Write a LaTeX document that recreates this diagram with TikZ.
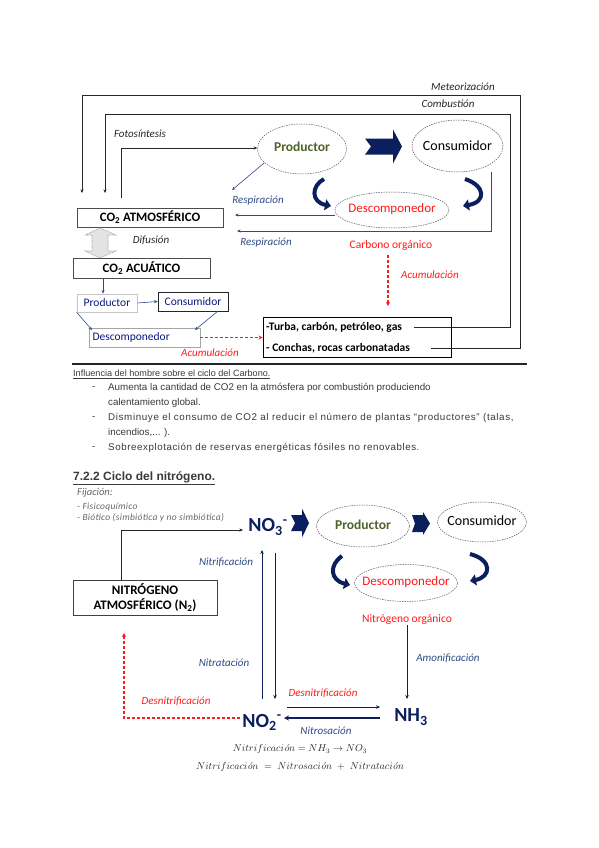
\documentclass[tikz,border=0pt]{standalone}
\usepackage{fontspec}
\setmainfont{Carlito}
\newfontfamily\arialf{Liberation Sans}
\newfontfamily\lmrf{Latin Modern Roman}
\newcommand\oacc{\mbox{\lmrf\itshape ó}}
\usetikzlibrary{shapes.geometric,arrows.meta}
\definecolor{navy}{HTML}{0B1F5C}
\definecolor{lblue}{HTML}{2F4A86}
\definecolor{olivec}{HTML}{4F6228}
\definecolor{txtgray}{HTML}{3A3A3A}
\definecolor{redc}{HTML}{FF1A1A}
\definecolor{dgray}{HTML}{262626}
\newcommand\blkarrow[7]{%
  \fill[navy] (#1,#3-#4) -- (#2-#6,#3-#4) -- (#2-#6,#3-#5) -- (#2,#3) -- (#2-#6,#3+#5) -- (#2-#6,#3+#4) -- (#1,#3+#4) -- (#1+#7,#3) -- cycle;}
\begin{document}
\begin{tikzpicture}[x=1pt,y=-1pt,
  ell/.style={ellipse, draw=gray!70!black, dash pattern=on 1.5pt off 1pt, line width=0.5pt, inner sep=0pt},
  lab/.style={font=\fontsize{11}{13}\selectfont\itshape, inner sep=0pt, text=dgray},
  blab/.style={font=\fontsize{11}{13}\selectfont\itshape, inner sep=0pt, text=lblue},
  rlab/.style={font=\fontsize{11}{13}\selectfont\itshape, inner sep=0pt, text=redc},
  hbox/.style={draw=gray!60!black, line width=0.9pt, inner sep=0pt, font=\fontsize{12.8}{14}\selectfont\bfseries},
  sbox/.style={line width=0.7pt, inner sep=0pt, font=\fontsize{11.5}{13}\selectfont, text=navy!80!blue},
  conn/.style={line width=0.8pt, draw=dgray, -{Stealth[length=3.5pt,width=3pt]}},
  bconn/.style={lblue, line width=0.6pt, -{Stealth[length=3.5pt,width=3pt]}},
  nconn/.style={navy, line width=0.7pt, -{Stealth[length=4pt,width=3.5pt]}},
  rdash/.style={redc, line width=1.2pt, dash pattern=on 3pt off 2pt, -{Stealth[length=4pt,width=4pt]}},
  curv/.style={navy, line width=4pt, -{Triangle[length=6pt,width=11pt]}},
  body/.style={font=\arialf\fontsize{9.8}{12}\selectfont, text=txtgray, inner sep=0pt, anchor=west},
  fix/.style={anchor=west, inner sep=0pt, font=\fontsize{9.5}{11}\selectfont\itshape\addfontfeature{LetterSpace=3}, text=gray!80!black},
  chem/.style={font=\fontsize{20}{22}\selectfont\bfseries, text=navy, inner sep=0pt}]
\useasboundingbox (0,0) rectangle (599,848);
\fill[white] (0,0) rectangle (599,848);

% ===== Carbon cycle =====
\node[ell, minimum width=89, minimum height=50] (prod) at (302,149) {};
\node[font=\fontsize{13.5}{15}\selectfont\bfseries, text=olivec] at (302,147) {Productor};
\node[ell, minimum width=91, minimum height=52] (cons) at (457.5,146) {};
\node[font=\fontsize{14}{16}\selectfont] at (457.5,146) {Consumidor};
\node[ell, minimum width=114, minimum height=36] (desc) at (392,210) {};
\node[font=\fontsize{13}{15}\selectfont, text=redc] at (392,209) {Descomponedor};

\blkarrow{365}{402}{146.5}{8}{17}{9}{6}
\draw[curv] (324,179) .. controls (311,186) and (311,202) .. (331,206);
\draw[curv] (465,179) .. controls (486,186) and (486,202) .. (463,206);

\node[hbox, minimum width=146, minimum height=19] (co2atm) at (150,217.5) {CO\textsubscript{2} ATMOSFÉRICO};
\node[hbox, minimum width=137, minimum height=20] (co2acu) at (141.5,268) {CO\textsubscript{2} ACUÁTICO};

% difusion double arrow
\filldraw[fill=gray!22, draw=gray!70, dash pattern=on 1pt off 0.7pt, line width=0.6pt]
  (100,228) -- (116,235) -- (108,235) -- (108,251) -- (116,251) -- (100,258) -- (85,251) -- (92,251) -- (92,235) -- (85,235) -- cycle;
\node[lab] at (151,240) {Difusión};

% small boxes
\node[sbox, draw=gray!45, minimum width=60, minimum height=18] (pbox) at (107,303) {Productor};
\node[sbox, draw=dgray, minimum width=70, minimum height=19] (cbox) at (193,301.5) {Consumidor};
\node[sbox, draw=gray!70, minimum width=111, minimum height=19, text width=104, align=left, inner xsep=3.5pt] (dbox) at (144.5,337.5) {Descomponedor};
\draw[bconn] (co2acu.south -| 103,0) -- (pbox.north -| 103,0);
\draw[bconn] (pbox.east) -- (cbox.west);
\draw[bconn] (pbox.south west) -- (92,330);
\draw[bconn] (218,311) -- (195,330);

% fossil box
\node[draw=black, line width=0.8pt, minimum width=188, minimum height=40, inner sep=0pt] (fos) at (357,337) {};
\node[font=\fontsize{11.5}{13}\selectfont\bfseries, anchor=west, inner sep=0pt] (turba) at (266,327) {-Turba, carbón, petróleo, gas};
\node[font=\fontsize{11.5}{13}\selectfont\bfseries, anchor=west, inner sep=0pt] (conchas) at (266,348) {- Conchas, rocas carbonatadas};
\draw[rdash] (dbox.east) -- (fos.west |- dbox.east);
\node[rlab] at (210,353) {Acumulación};

% loops
\coordinate (tstart) at ([xshift=12pt]turba.east);
\coordinate (cstart) at ([xshift=21pt]conchas.east);
\draw[conn] (tstart) -| (510,114) -- (105,114) -- (105,193);
\draw[conn] (cstart) -| (520,95) -- (82,95) -- (82,193);
\node[lab] at (463,87) {Meteorización};
\node[lab] at (448,104) {Combustión};
\draw[conn] (121,198) -- (121,148) -- (prod.west |- 0,148);
\node[lab] at (140,134) {Fotosíntesis};

% respiration
\draw[bconn] (prod.-160) -- (232,190);
\node[blab] at (258,201) {Respiración};
\draw[bconn] (desc.west |- 0,215) -- (235,215);
\draw[bconn] (491,172) -- (491,231) -- (237,231);
\node[blab] at (266,243) {Respiración};

\node[font=\fontsize{11.5}{13}\selectfont, text=redc, inner sep=0pt] (corg) at (391,245) {Carbono orgánico};
\draw[rdash] (388,255) -- (388,306);
\node[rlab] at (430,275) {Acumulación};

% rule
\draw[line width=1.3pt, draw=gray!30!black] (72,364) -- (527,364);

% ===== text =====
\node[body, font=\arialf\fontsize{9.1}{11}\selectfont] at (73,374) {\underline{Influencia del hombre sobre el ciclo del Carbono.}};
\node[body] at (92,388) {-};
\node[body] at (108,388) {Aumenta la cantidad de CO2 en la atmósfera por combustión produciendo};
\node[body] at (108,403) {calentamiento global.};
\node[body] at (92,418) {-};
\node[body, font=\arialf\fontsize{9.8}{12}\selectfont\addfontfeature{LetterSpace=6.4}] at (108,418) {Disminuye el consumo de CO2 al reducir el número de plantas “productores” (talas,};
\node[body] at (108,433) {incendios,... ).};
\node[body] at (92,448) {-};
\node[body, font=\arialf\fontsize{9.8}{12}\selectfont\addfontfeature{LetterSpace=5.6}] at (108,448) {Sobreexplotación de reservas energéticas fósiles no renovables.};
\node[body, font=\arialf\fontsize{12}{14}\selectfont\bfseries] at (73,478) {\underline{7.2.2 Ciclo del nitrógeno.}};

% ===== Nitrogen cycle =====
\node[anchor=west, inner sep=0pt, font=\fontsize{10.5}{12}\selectfont\itshape, text=gray!80!black] at (77,493) {Fijación:};
\node[fix] at (77,507) {- Fisicoquímico};
\node[fix] at (77,518) {- Biótico (simbiótica y no simbiótica)};

\node[chem] (no3) at (268,527) {NO\textsubscript{3}\textsuperscript{-}};
\node[chem] (no2) at (262,722) {NO\textsubscript{2}\textsuperscript{-}};
\node[chem] (nh3) at (411,717) {NH\textsubscript{3}};

\node[ell, minimum width=93, minimum height=42] (nprod) at (363,526) {};
\node[font=\fontsize{13.5}{15}\selectfont\bfseries, text=olivec] at (363,525) {Productor};
\node[ell, minimum width=89, minimum height=40] (ncons) at (482,522) {};
\node[font=\fontsize{14}{16}\selectfont] at (482,521) {Consumidor};
\node[ell, minimum width=103, minimum height=37] (ndesc) at (406,583) {};
\node[font=\fontsize{13}{15}\selectfont, text=redc] at (406,582) {Descomponedor};
\node[font=\fontsize{11.5}{13}\selectfont, text=redc, inner sep=0pt] (norg) at (407,620) {Nitrógeno orgánico};

\blkarrow{291}{309}{523}{8}{14.5}{7}{4}
\blkarrow{412}{430}{523.5}{8.5}{11.5}{7}{3}
\draw[curv] (342,556) .. controls (329,565) and (330,580) .. (350,585);
\draw[curv] (470,554) .. controls (493,560) and (491,577) .. (470,581);

\node[draw=gray!50!black, line width=0.9pt, minimum width=144, minimum height=35, inner sep=0pt, align=center, font=\fontsize{13}{15}\selectfont\bfseries] (n2) at (145,597.5) {NITRÓGENO\\ATMOSFÉRICO (N\textsubscript{2})};
\draw[conn] (n2.north -| 121,0) -- (121,530) -- (243,530);

\draw[nconn] (262,699) -- (262,550);
\draw[nconn] (275,553) -- (275,699);
\node[blab] at (226,562) {Nitrificación};
\node[blab] at (224,663) {Nitratación};
\draw[nconn] (norg.south -| 407,0) -- (407,699);
\node[blab] at (448,658) {Amonificación};
\draw[nconn] (287,707) -- (380,707);
\node[rlab] at (323,693) {Desnitrificación};
\draw[navy, line width=1.8pt, -{Stealth[length=5pt,width=5pt]}] (380,718) -- (284,718);
\node[blab] at (326,731) {Nitrosación};
\draw[rdash] (240,718) -- (124,718) -- (124,633);
\node[rlab] at (176,701) {Desnitrificación};

\node[inner sep=0pt, text=dgray, font=\fontsize{10}{12}\selectfont] at (300,749) {$Nitrificaci\oacc n = NH_3 \rightarrow NO_3$};
\node[inner sep=0pt, text=dgray, font=\fontsize{10}{12}\selectfont] at (300,767) {$Nitrificaci\oacc n \;=\; Nitrosaci\oacc n \;+\; Nitrataci\oacc n$};
\end{tikzpicture}
\end{document}
